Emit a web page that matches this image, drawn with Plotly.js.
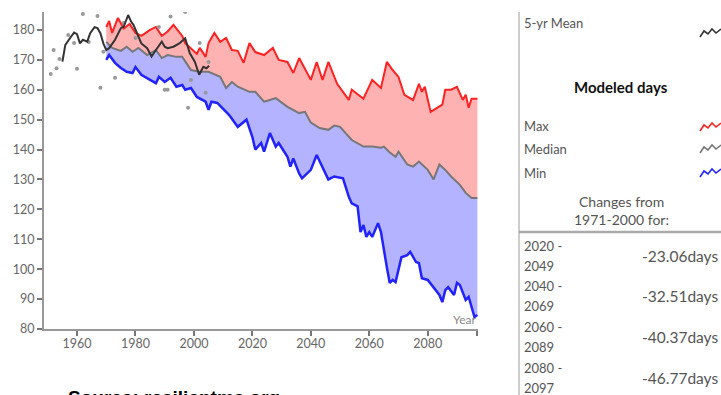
<!DOCTYPE html>
<html>
<head>
<meta charset="utf-8">
<script src="https://cdn.plot.ly/plotly-3.0.1.min.js"></script>
<style>html,body{margin:0;padding:0;background:#fff;overflow:hidden}#chart{width:721px;height:395px}</style>
</head>
<body>
<div id="chart"></div>
<script>
// ---- Data ----
var maxYears = [1970,1971,1972,1974,1976,1978,1980,1982,1985,1987,1989,1991,1993,1996,1997,2001,2002,2004,2005,2007,2009,2011,2013,2015,2017,2019,2021,2024,2027,2029,2032,2034,2036,2040,2042,2044,2046,2049,2053,2054,2058,2061,2064,2066,2068,2070,2072,2075,2077,2078,2079,2081,2085,2086,2088,2090,2092,2093,2094,2095,2097];
var maxDays  = [181,183,179,184,180.5,182,179,178,180,181,178,179.5,181.7,178,175.6,172,174,171,175.6,179,176,177.3,173.3,173,169,175.6,172.6,171.6,174,170,169.3,165.6,170.6,163.3,169.3,163.3,169.3,162,156.6,160,157,163.3,160.6,169.3,166.6,164.3,158.3,156.6,162,159.3,161,152.6,155,160,160,161,156.6,158.3,154,157,157];

var medYears = [1970,1972,1975,1977,1979,1981,1984,1987,1989,1991,1994,1996,1999,2002,2005,2009,2011,2013,2015,2019,2021,2024,2026,2028,2032,2034,2036,2038,2040,2043,2046,2048,2050,2054,2058,2061,2064,2065,2067,2069,2070,2073,2075,2077,2080,2082,2084,2086,2088,2091,2093,2095,2097];
var medDays  = [176,174,173,174.4,172.7,174,171.6,173.3,170.6,171.6,171,171,166.6,166,166,164.3,160.6,162.6,161,159.3,159.3,156,156.6,157.2,154.3,153.3,152.2,152.6,149,147.2,146.6,148,147.6,143.2,141,141,140.6,141,139,137.6,139.3,135,134.3,136,133.2,130,135,133.2,131,128.2,125.5,123.8,123.8];

var minYears = [1970,1971,1973,1975,1977,1979,1980,1982,1985,1987,1988,1990,1992,1994,1996,1997,1999,2001,2004,2005,2006,2008,2012,2015,2018,2020,2021,2023,2024,2026,2028,2029,2032,2033,2034,2036,2037,2040,2042,2044,2046,2048,2051,2053,2054,2056,2057,2058,2059,2060,2061,2063,2064,2066,2067,2068,2069,2071,2073,2074,2076,2077,2078,2080,2082,2084,2085,2086,2087,2089,2090,2091,2093,2094,2096,2097];
var minDays  = [170,171.6,169,167.3,166,165.6,167.6,165,163.3,162.2,164.3,162.6,164,161,161.6,160,160.6,157.6,156,153.3,156,155.6,151.6,147.6,150,144.2,140,142.2,139.3,145.5,141,142.2,137.6,134.3,137,132,130.4,133.2,138.2,134.3,130,131,130.4,124.2,122,121,112.4,114.8,110.8,112.4,110.8,115.4,112.4,100.7,95.4,96.4,95.7,104,104.7,105.8,102.4,102,97,96.4,94,91.4,89,93,94,91.4,95.4,94.7,89.7,90.7,84,84.7];

var obsYears = [1951,1952,1953,1954,1957,1959,1960,1962,1964,1967,1968,1969,1973,1976,1980,1988,1990,1991,1992,1997,1998,1999,2002,2004,2005];
var obsDays  = [165.3,173.3,167.2,170.3,178.3,175.6,167,185.3,176,184.7,160.7,172.7,164,182.3,177.3,181,160,160,184.5,186,154,163.3,175.6,159,169.3];

var meanYears = [1955,1956,1958,1959,1960,1961,1962,1963.5,1964.5,1966,1967,1968,1969,1970,1971,1973,1975,1976,1977.5,1978.5,1979.3,1980.4,1982,1984,1985.5,1987,1989,1990,1991,1993,1995,1997,1998.6,2000.3,2001.8,2003.2,2004.3,2005.2];
var meanDays  = [169.4,175,177.8,179.1,178.6,175.5,176.7,176.1,178.9,180.9,180.6,178.9,175.5,173.3,173.9,176.7,180.6,181.1,185,182.8,181.7,178.9,175.5,173.9,171.1,173.3,176.1,174.4,173.9,174.4,175.5,177.2,172.2,169.4,165,167.7,167.2,168];

var xTickVals = [1960,1980,2000,2020,2040,2060,2080,2097];
var xTickText = ['1960','1980','2000','2020','2040','2060','2080',''];
var yTickVals = [80,90,100,110,120,130,140,150,160,170,180];

var legendLabels = ['Max','Median','Min'];
var changePeriods = [['2020 -','2049'],['2040 -','2069'],['2060 -','2089'],['2080 -','2097']];
var changeValues = [-23.06,-32.51,-40.37,-46.77];

// ---- Layout helpers (pixel -> paper) ----
var L = 44, R = 478, T = 12, B = 329;
function xp(px){ return (px - L) / (R - L); }
function yp(py){ return (B - py) / (B - T); }
var FONT = 'Lato, "Open Sans", sans-serif';

var traces = [
  {x: minYears, y: minDays, type: 'scatter', mode: 'lines', line: {color: '#2222ff', width: 2.5}, hoverinfo: 'skip'},
  {x: medYears, y: medDays, type: 'scatter', mode: 'lines', line: {color: '#777777', width: 2}, fill: 'tonexty', fillcolor: 'rgba(120,120,255,0.56)', hoverinfo: 'skip'},
  {x: maxYears, y: maxDays, type: 'scatter', mode: 'lines', line: {color: '#ff2222', width: 2}, fill: 'tonexty', fillcolor: 'rgba(255,110,110,0.53)', hoverinfo: 'skip'},
  {x: obsYears, y: obsDays, type: 'scatter', mode: 'markers', marker: {color: '#999999', size: 4}, hoverinfo: 'skip'},
  {x: meanYears, y: meanDays, type: 'scatter', mode: 'lines', line: {color: '#333333', width: 2}, hoverinfo: 'skip'}
];

function ann(text, px, py, opt){
  opt = opt || {};
  return {text: text, x: xp(px), y: yp(py), xref: 'paper', yref: 'paper', showarrow: false,
    xanchor: opt.xanchor || 'left', yanchor: opt.yanchor || 'middle', align: opt.align || 'left',
    font: {family: opt.family || FONT, size: opt.size || 13, color: opt.color || '#555'}};
}

var annotations = [
  ann('Year', 478, 319, {xanchor: 'right', size: 12, color: '#888'}),
  ann('5-yr Mean', 522, 23, {size: 13}),
  ann('<b>Modeled days</b>', 621, 87, {xanchor: 'center', size: 15, color: '#111'}),
  ann('Changes from', 621, 201, {xanchor: 'center', size: 14, color: '#555'}),
  ann('1971-2000 for:', 621, 220, {xanchor: 'center', size: 14, color: '#555'}),
  ann('<b>Source: resilientma.org</b>', 66, 385, {yanchor: 'top', size: 19, color: '#000', family: '"Liberation Sans", Arial, sans-serif'})
];
var legY = [126, 149, 173];
legendLabels.forEach(function(t, i){ annotations.push(ann(t, 522, legY[i], {size: 13})); });
var rowY = [256, 296, 337, 378];
changePeriods.forEach(function(p, i){
  annotations.push(ann(p[0], 522, rowY[i] - 10, {size: 13}));
  annotations.push(ann(p[1], 522, rowY[i] + 10, {size: 13}));
  annotations.push(ann(changeValues[i].toFixed(2) + 'days', 720, rowY[i], {xanchor: 'right', size: 15.5}));
});

function zig(cy, color){
  var pts = [[700,cy+4],[704,cy-2],[708,cy+1],[712,cy-4],[716,cy],[721,cy-4]];
  var d = pts.map(function(p, i){ return (i ? 'L' : 'M') + xp(p[0]) + ',' + yp(p[1]); }).join(' ');
  return {type: 'path', xref: 'paper', yref: 'paper', path: d, line: {color: color, width: 1.6}};
}

var shapes = [
  {type: 'line', xref: 'paper', yref: 'paper', x0: xp(519), x1: xp(519), y0: yp(12), y1: yp(400), line: {color: '#cccccc', width: 2}},
  {type: 'line', xref: 'paper', yref: 'paper', x0: xp(519), x1: xp(725), y0: yp(232), y1: yp(232), line: {color: '#aaaaaa', width: 2.5}},
  zig(33, '#333333'), zig(127, '#ff2222'), zig(149, '#777777'), zig(173, '#2222ff')
];

var layout = {
  width: 721, height: 395,
  margin: {l: L, r: 721 - R, t: T, b: 395 - B, pad: 0},
  paper_bgcolor: '#fff', plot_bgcolor: '#fff',
  showlegend: false,
  xaxis: {range: [1948.7, 2097.2], showgrid: false, zeroline: false, showline: true, linecolor: '#999', linewidth: 2,
    ticks: 'outside', ticklen: 5, tickwidth: 2, tickcolor: '#777', tickvals: xTickVals, ticktext: xTickText,
    ticklabelstandoff: -3,
    tickfont: {family: FONT, size: 12.5, color: '#666'}},
  yaxis: {range: [80, 186], showgrid: false, zeroline: false, showline: true, linecolor: '#999', linewidth: 2,
    ticks: 'outside', ticklen: 5, tickwidth: 2, tickcolor: '#777', tickvals: yTickVals,
    tickfont: {family: FONT, size: 12.5, color: '#666'}},
  annotations: annotations,
  shapes: shapes
};

Plotly.newPlot('chart', traces, layout, {staticPlot: true, displayModeBar: false});
</script>
</body>
</html>
